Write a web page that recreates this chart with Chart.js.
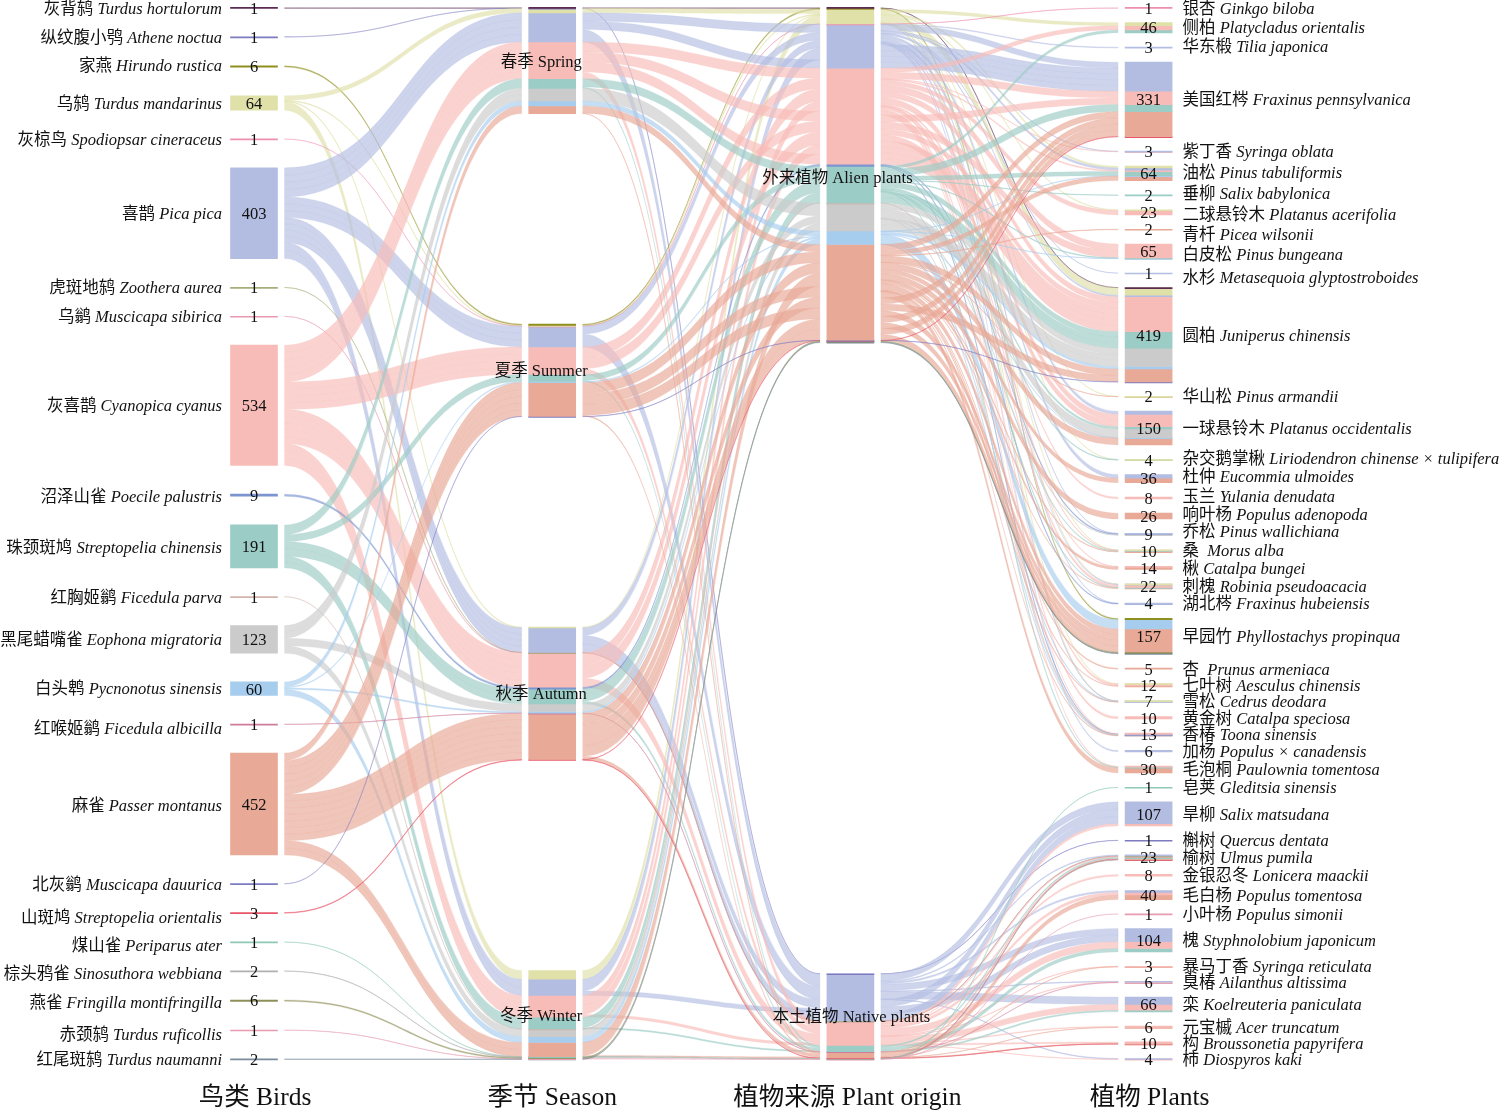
<!DOCTYPE html>
<html>
<head>
<meta charset="utf-8">
<style>html,body{margin:0;padding:0;background:#fff}canvas{display:block}</style>
<script src="https://cdn.jsdelivr.net/npm/chart.js@4"></script>
</head>
<body>
<canvas id="c" width="1500" height="1110"></canvas>
<script>
"use strict";
/* Alluvial chart birds -> season -> plant origin -> plants. Bars are floating
   bars on a linear x axis; ribbons are drawn by a small plugin via the scales. */
const birdCn = ["灰背鸫","纵纹腹小鸮","家燕","乌鸫","灰椋鸟","喜鹊","虎斑地鸫","乌鹟","灰喜鹊","沼泽山雀","珠颈斑鸠","红胸姬鹟","黑尾蜡嘴雀","白头鹎","红喉姬鹟","麻雀","北灰鹟","山斑鸠","煤山雀","棕头鸦雀","燕雀","赤颈鸫","红尾斑鸫"];
const birdLatin = ["Turdus hortulorum","Athene noctua","Hirundo rustica","Turdus mandarinus","Spodiopsar cineraceus","Pica pica","Zoothera aurea","Muscicapa sibirica","Cyanopica cyanus","Poecile palustris","Streptopelia chinensis","Ficedula parva","Eophona migratoria","Pycnonotus sinensis","Ficedula albicilla","Passer montanus","Muscicapa dauurica","Streptopelia orientalis","Periparus ater","Sinosuthora webbiana","Fringilla montifringilla","Turdus ruficollis","Turdus naumanni"];
const birdColor = ["#5b2a55","#7d7bc0","#8f8f1f","#dfe1a9","#ee8fb0","#b3bde2","#a7ae7a","#e79ab0","#f8bcb8","#7c95d0","#9cccc6","#d3b5ad","#cbcbcb","#a7cdee","#cf7c9c","#e8a996","#7d7bc0","#e8566a","#8ec9b8","#b0b0b0","#8f8f5a","#e79ab0","#7a8c9c"];
const seasonNames = ["春季 Spring","夏季 Summer","秋季 Autumn","冬季 Winter"];
const originNames = ["外来植物 Alien plants","本土植物 Native plants"];
const columnTitles = ["鸟类 Birds","季节 Season","植物来源 Plant origin","植物 Plants"];

// records per bird in spring, summer, autumn, winter
const birdSeason = [[1,0,0,0],[1,0,0,0],[0,6,0,0],[20,3,3,38],[0,1,0,0],[129,92,110,72],[0,0,1,0],[0,0,1,0],[163,122,152,97],[0,0,9,0],[43,31,65,52],[0,0,0,1],[56,0,34,33],[22,5,7,26],[0,0,1,0],[34,150,205,63],[0,1,0,0],[0,0,3,0],[0,0,0,1],[0,0,0,2],[0,0,0,6],[0,0,0,1],[0,0,0,2]];
// the part of those records that is on native plants
const birdSeasonNative = [[0,0,0,0],[1,0,0,0],[0,0,0,0],[0,0,0,0],[0,0,0,0],[55,58,75,20],[0,0,1,0],[0,0,1,0],[30,25,40,12],[0,0,0,0],[6,4,12,6],[0,0,0,0],[0,0,0,0],[0,0,0,0],[0,0,1,0],[2,5,15,5],[0,0,0,0],[0,0,2,0],[0,0,0,1],[0,0,0,2],[0,0,0,0],[0,0,0,1],[0,0,0,0]];

const HOR=0,ATH=1,HIR=2,Y=3,SPO=4,B=5,ZOO=6,SIB=7,P=8,POE=9,T=10,PAR=11,G=12,L=13,ALB=14,S=15,DAU=16,ORI=17,PER=18,SIN=19,FRI=20,RUF=21,NAU=22;
const plantCn = ["银杏","侧柏","华东椴","美国红梣","紫丁香","油松","垂柳","二球悬铃木","青杄","白皮松","水杉","圆柏","华山松","一球悬铃木","杂交鹅掌楸","杜仲","玉兰","响叶杨","乔松","桑 ","楸","刺槐","湖北梣","早园竹","杏 ","七叶树","雪松","黄金树","香椿","加杨","毛泡桐","皂荚","旱柳","槲树","榆树","金银忍冬","毛白杨","小叶杨","槐","暴马丁香","臭椿","栾","元宝槭","构","柿"];
const plantLatin = ["Ginkgo biloba","Platycladus orientalis","Tilia japonica","Fraxinus pennsylvanica","Syringa oblata","Pinus tabuliformis","Salix babylonica","Platanus acerifolia","Picea wilsonii","Pinus bungeana","Metasequoia glyptostroboides","Juniperus chinensis","Pinus armandii","Platanus occidentalis","Liriodendron chinense × tulipifera","Eucommia ulmoides","Yulania denudata","Populus adenopoda","Pinus wallichiana","Morus alba","Catalpa bungei","Robinia pseudoacacia","Fraxinus hubeiensis","Phyllostachys propinqua","Prunus armeniaca","Aesculus chinensis","Cedrus deodara","Catalpa speciosa","Toona sinensis","Populus × canadensis","Paulownia tomentosa","Gleditsia sinensis","Salix matsudana","Quercus dentata","Ulmus pumila","Lonicera maackii","Populus tomentosa","Populus simonii","Styphnolobium japonicum","Syringa reticulata","Ailanthus altissima","Koelreuteria paniculata","Acer truncatum","Broussonetia papyrifera","Diospyros kaki"];
const nativeFrom = 31; // plants from this index on are native
// [bird, records] per plant
const plantBirds = [
  [[SPO,1]],
  [[Y,14],[P,19],[T,13]],
  [[B,3]],
  [[B,129],[P,59],[T,31],[S,111],[ORI,1]],
  [[B,2],[P,1]],
  [[Y,8],[B,10],[P,6],[T,18],[L,2],[S,20]],
  [[T,2]],
  [[Y,3],[P,20]],
  [[S,2]],
  [[P,61],[T,3],[L,1]],
  [[B,1]],
  [[HOR,1],[Y,33],[B,6],[P,155],[T,74],[G,81],[L,11],[S,57],[DAU,1]],
  [[Y,1],[S,1]],
  [[B,14],[P,55],[T,10],[G,38],[L,2],[S,31]],
  [[Y,1],[T,3]],
  [[B,16],[S,20]],
  [[P,8]],
  [[S,26]],
  [[B,1],[POE,5],[G,3]],
  [[Y,1],[P,2],[T,5],[S,2]],
  [[P,2],[S,12]],
  [[Y,1],[B,4],[P,11],[T,2],[S,4]],
  [[B,1],[POE,3]],
  [[HIR,6],[L,41],[S,102],[FRI,6],[NAU,2]],
  [[S,5]],
  [[Y,1],[P,9],[S,2]],
  [[Y,1],[B,2],[L,2],[S,2]],
  [[P,10]],
  [[P,5],[POE,1],[PAR,1],[G,1],[L,1],[S,4]],
  [[B,6]],
  [[P,4],[T,2],[S,24]],
  [[PER,1]],
  [[B,97],[P,10]],
  [[ATH,1]],
  [[ZOO,1],[B,5],[SIB,1],[P,4],[T,6],[S,3],[ORI,1],[SIN,2]],
  [[P,8]],
  [[B,8],[P,12],[S,20]],
  [[RUF,1]],
  [[B,59],[P,30],[T,15]],
  [[P,2],[S,1]],
  [[B,3],[P,2],[ALB,1]],
  [[B,33],[P,26],[T,7]],
  [[P,5],[S,1]],
  [[P,7],[S,2],[ORI,1]],
  [[B,3],[P,1]],
];

const SPAN = 4666;          // height of every column in records, gaps included
const PX_PER_REC = 0.22535;
const COL_STEP = 298.2, COL0 = 254, NODE_W = 47, RIBBON_GAP = 7;
const STRAND_SEASON = 45, STRAND_PLANT = 28; // a flow is drawn as strands of about this many records
const SERIF = '"Liberation Serif","Noto Sans CJK SC",serif';
// hand placed labels in the original, in pixels from the node centre
const birdLabelNudge = [0,0,-1,0,0,0,0,0,0,1,1,0,0,-1,4,1,0,4,3,2,2,4,0];
const plantLabelNudge = [0,0,-1,0,0,-1,-2,2,5,3,4,0,0,0,-2,-2,-2,-2,-3,-1,0,0,0,0,0,0,0,0,0,0,0,0,0,0,0,0,0,0,0,0,0,0,0,0,0];
const titleNudge = [1,0,-3,1];

const sum = (a) => a.reduce((s, v) => s + v, 0);
const nBirds = birdCn.length;

function tops(totals) {
  const gap = (SPAN - sum(totals)) / (totals.length - 1);
  let y = 0;
  return totals.map((t) => { const r = y; y += t + gap; return r; });
}

// totals per bird in each origin and in each plant
const plantBird = plantBirds.map((row) => { const a = new Array(nBirds).fill(0); row.forEach(([b, n]) => { a[b] += n; }); return a; });
const originBird = [0, 1].map((o) => birdSeason.map((row, b) => sum(row.map((n, s) => o ? birdSeasonNative[b][s] : n - birdSeasonNative[b][s]))));
const seasonBird = [0, 1, 2, 3].map((s) => birdSeason.map((row) => row[s]));

const birdTotals = birdSeason.map(sum), seasonTotals = seasonBird.map(sum), originTotals = originBird.map(sum), plantTotals = plantBird.map(sum);
const birdTop = tops(birdTotals), seasonTop = tops(seasonTotals), originTop = tops(originTotals), plantTop = tops(plantTotals);

// start of one bird's band inside a node
const bandTops = (rows, nodeTop) => rows.map((row, i) => { let y = nodeTop[i]; return row.map((n) => { const r = y; y += n; return r; }); });
const seasonBand = bandTops(seasonBird, seasonTop), originBand = bandTops(originBird, originTop), plantBand = bandTops(plantBird, plantTop);

// one floating bar per bird band, one dataset per bird
const barData = birdColor.map(() => []);
birdTotals.forEach((n, b) => barData[b].push({ x: 0, y: [birdTop[b], birdTop[b] + n] }));
[[seasonBird, seasonBand, 1], [originBird, originBand, 2], [plantBird, plantBand, 3]].forEach(([rows, band, x]) => {
  rows.forEach((row, i) => row.forEach((n, b) => { if (n) barData[b].push({ x, y: [band[i][b], band[i][b] + n] }); }));
});

const ribbons = [];
function addRibbon(col, b, left, right, n) { ribbons.push({ col, b, left, right, n }); }

// cut a flow into strands that keep its total
function strands(n, size) {
  const k = Math.max(1, Math.round(n / size));
  return new Array(k).fill(n / k);
}
// take one strand from each flow in turn, so flows mix inside a band
function mix(flows) {
  const out = [];
  for (let i = 0; flows.some((f) => i < f.parts.length); i++) {
    flows.forEach((f) => { if (i < f.parts.length) out.push({ flow: f, n: f.parts[i] }); });
  }
  return out;
}

for (let b = 0; b < nBirds; b++) {
  let y = birdTop[b];
  birdSeason[b].forEach((n, s) => {
    if (!n) return;
    let r = seasonBand[s][b];
    strands(n, 30).forEach((m) => { addRibbon(0, b, y, r, m); y += m; r += m; });
  });
}
for (let b = 0; b < nBirds; b++) {
  [0, 1].forEach((o) => {
    const flows = [];
    [0, 1, 2, 3].forEach((s) => {
      const nat = birdSeasonNative[b][s], ali = birdSeason[b][s] - nat, n = o ? nat : ali;
      if (n) flows.push({ y: seasonBand[s][b] + (o ? ali : 0), parts: strands(n, STRAND_SEASON) });
    });
    let r = originBand[o][b];
    mix(flows).forEach(({ flow, n }) => { addRibbon(1, b, flow.y, r, n); flow.y += n; r += n; });
  });
  [0, 1].forEach((o) => {
    const flows = [];
    plantBird.forEach((row, p) => {
      if (row[b] && (p >= nativeFrom) === (o === 1)) flows.push({ y: plantBand[p][b], parts: strands(row[b], STRAND_PLANT) });
    });
    let l = originBand[o][b];
    mix(flows).forEach(({ flow, n }) => { addRibbon(2, b, l, flow.y, n); flow.y += n; l += n; });
  });
}

function rgba(hex, a) {
  const v = parseInt(hex.slice(1), 16);
  return `rgba(${v >> 16},${(v >> 8) & 255},${v & 255},${a})`;
}

const ribbonPlugin = {
  id: "ribbons",
  beforeDatasetsDraw(chart) {
    const { ctx, scales: { x, y } } = chart;
    const inset = NODE_W / 2 + RIBBON_GAP;
    ctx.save();
    ribbons.forEach((r) => {
      const x0 = x.getPixelForValue(r.col) + inset, x1 = x.getPixelForValue(r.col + 1) - inset, xm = (x0 + x1) / 2;
      const a0 = y.getPixelForValue(r.left), a1 = y.getPixelForValue(r.left + r.n);
      const b0 = y.getPixelForValue(r.right), b1 = y.getPixelForValue(r.right + r.n);
      ctx.beginPath();
      ctx.moveTo(x0, a0);
      ctx.bezierCurveTo(xm, a0, xm, b0, x1, b0);
      ctx.lineTo(x1, b1);
      ctx.bezierCurveTo(xm, b1, xm, a1, x0, a1);
      ctx.closePath();
      ctx.fillStyle = rgba(birdColor[r.b], 0.66);
      ctx.fill();
      ctx.strokeStyle = rgba(birdColor[r.b], r.n < 4 ? 0.6 : 0.3);
      ctx.lineWidth = 0.6;
      ctx.stroke();
    });
    ctx.restore();
  },
  afterDatasetsDraw(chart) {
    const { ctx, scales: { x, y } } = chart;
    ctx.save();
    ctx.fillStyle = "#111";
    ctx.textBaseline = "middle";
    const mid = (top, n) => y.getPixelForValue(top + n / 2) + 1.5;
    const named = (cn, latin, px, py, right) => {
      const a = cn + " ";
      ctx.textAlign = "left";
      ctx.font = `16.5px ${SERIF}`;
      const wa = ctx.measureText(a).width;
      const fontI = `italic 16.5px ${SERIF}`;
      ctx.font = fontI;
      const wb = ctx.measureText(latin).width;
      const start = right ? px - wa - wb : px;
      ctx.font = `16.5px ${SERIF}`;
      ctx.fillText(a, start, py);
      ctx.font = fontI;
      ctx.fillText(latin, start + wa, py);
    };
    const count = (col, n, py) => {
      ctx.textAlign = "center";
      ctx.font = `16.5px ${SERIF}`;
      ctx.fillText(String(n), x.getPixelForValue(col), py);
    };
    birdTotals.forEach((n, b) => {
      const py = mid(birdTop[b], n);
      named(birdCn[b], birdLatin[b], x.getPixelForValue(0) - 32, py + birdLabelNudge[b], true);
      count(0, n, py);
    });
    plantTotals.forEach((n, p) => {
      const py = mid(plantTop[p], n);
      named(plantCn[p], plantLatin[p], x.getPixelForValue(3) + 34, py + plantLabelNudge[p], false);
      count(3, n, py);
    });
    ctx.textAlign = "center";
    ctx.font = `16.5px ${SERIF}`;
    seasonNames.forEach((t, s) => ctx.fillText(t, x.getPixelForValue(1) - 11, mid(seasonTop[s], seasonTotals[s])));
    originNames.forEach((t, o) => ctx.fillText(t, x.getPixelForValue(2) + (o ? 1 : -13), mid(originTop[o], originTotals[o]) + (o ? 0 : 2)));
    ctx.font = `25.5px ${SERIF}`;
    columnTitles.forEach((t, c) => ctx.fillText(t, x.getPixelForValue(c) + titleNudge[c], y.getPixelForValue(SPAN + 172)));
    ctx.restore();
  },
};

new Chart(document.getElementById("c"), {
  type: "bar",
  data: {
    datasets: birdColor.map((color, b) => ({
      label: birdLatin[b], data: barData[b], backgroundColor: color,
      barThickness: NODE_W, minBarLength: 1, grouped: false, borderWidth: 0,
    })),
  },
  options: {
    responsive: false, animation: false,
    layout: { padding: 0 },
    plugins: { legend: { display: false }, tooltip: { enabled: false } },
    scales: {
      x: { type: "linear", display: false, offset: false, min: -COL0 / COL_STEP, max: (1500 - COL0) / COL_STEP },
      y: { type: "linear", display: false, reverse: true, min: -7.9 / PX_PER_REC, max: (1110 - 7.9) / PX_PER_REC },
    },
  },
  plugins: [ribbonPlugin],
});
</script>
</body>
</html>
